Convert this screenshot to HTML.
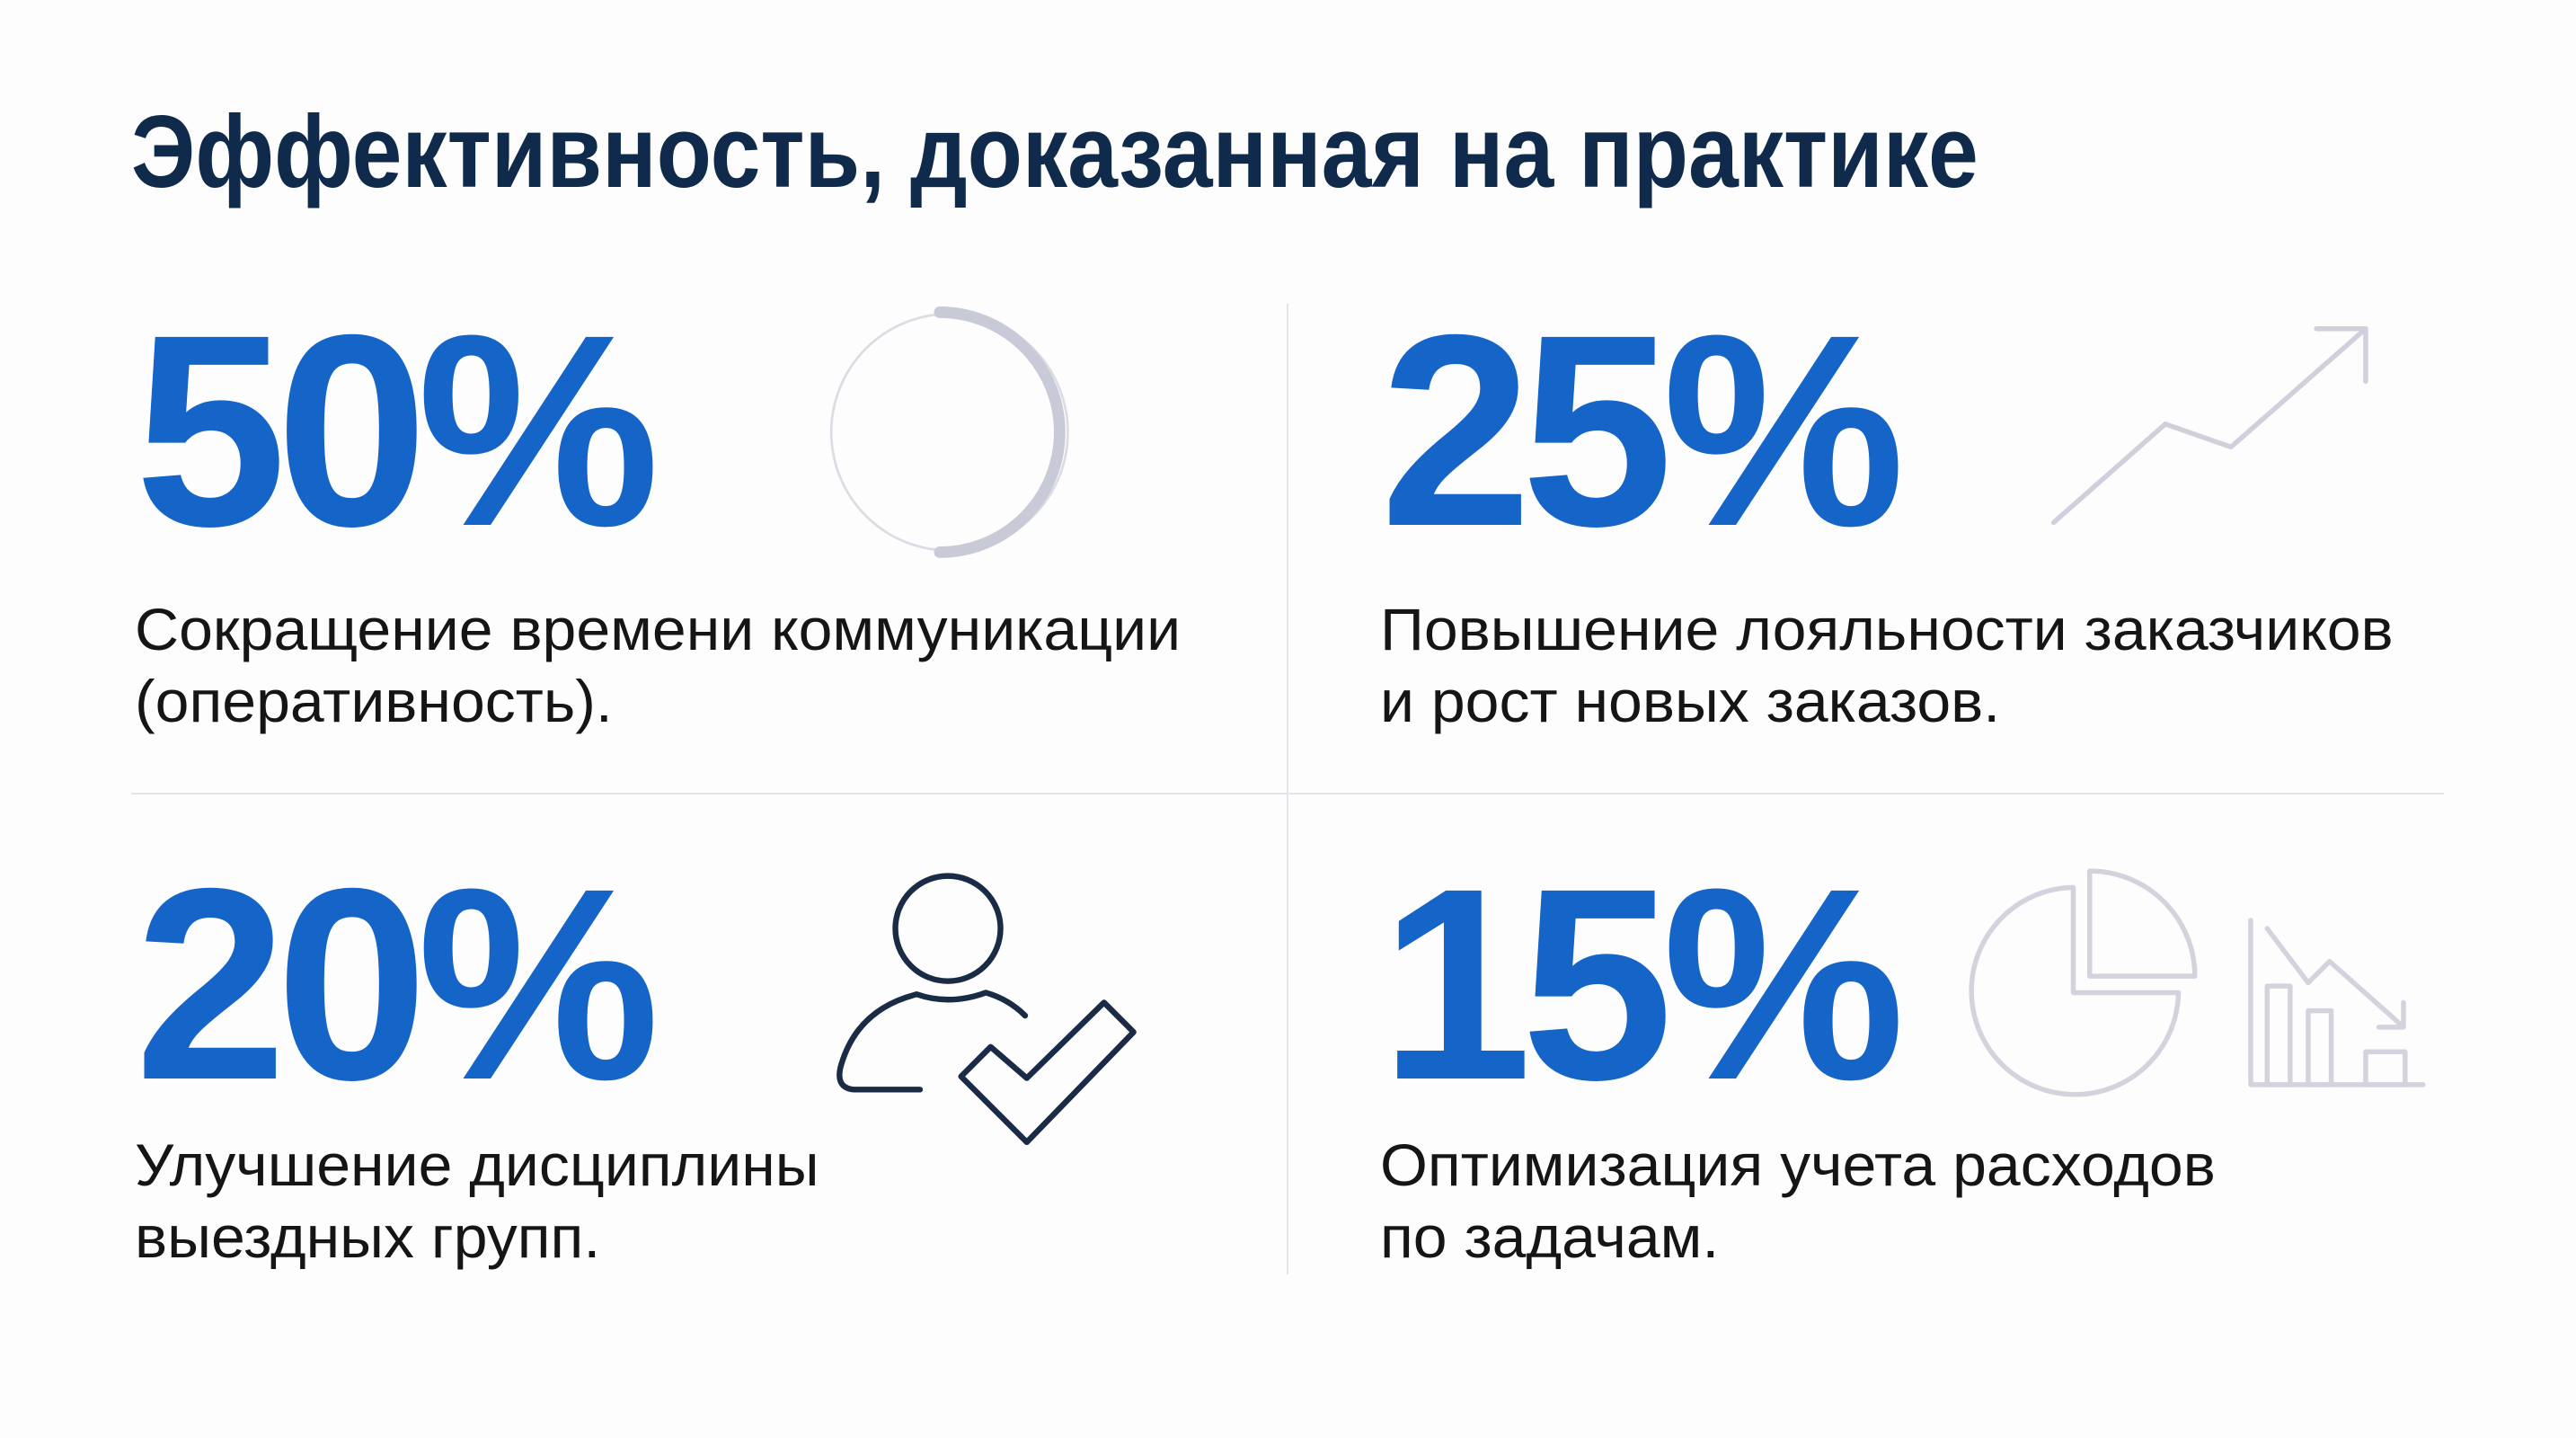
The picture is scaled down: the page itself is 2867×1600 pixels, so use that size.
<!DOCTYPE html>
<html><head><meta charset="utf-8"><style>
html,body{margin:0;padding:0}
body{width:2867px;height:1600px;position:relative;background:#fdfdfe;overflow:hidden;font-family:"Liberation Sans","DejaVu Sans",sans-serif}
.t{position:absolute;white-space:nowrap;transform-origin:left top}
.title{left:146px;top:113px;font-size:114px;line-height:114px;font-weight:bold;color:#0f2a4a;transform:scaleX(0.88)}
.num{font-size:304px;line-height:304px;font-weight:bold;color:#1565c8;letter-spacing:-12px}
.d{font-size:66px;line-height:80px;color:#151515;transform:scaleX(1.03)}
.line{position:absolute;background:#e4e4ea}
</style></head><body>
<div class="line" style="left:1432px;top:338px;width:2px;height:1080px"></div>
<div class="line" style="left:146px;top:882px;width:2574px;height:2px"></div>
<div class="t title">Эффективность, доказанная на практике</div>
<div class="t num" style="left:150px;top:328px">50%</div>
<div class="t num" style="left:1536px;top:328px">25%</div>
<div class="t num" style="left:150px;top:944px">20%</div>
<div class="t num" style="left:1536px;top:944px">15%</div>
<div class="t d" style="left:150px;top:660px">Сокращение времени коммуникации<br>(оперативность).</div>
<div class="t d" style="left:1536px;top:660px">Повышение лояльности заказчиков<br>и рост новых заказов.</div>
<div class="t d" style="left:150px;top:1256px">Улучшение дисциплины<br>выездных групп.</div>
<div class="t d" style="left:1536px;top:1256px">Оптимизация учета расходов<br>по задачам.</div>
<svg style="position:absolute;left:0;top:0" width="2867" height="1600" viewBox="0 0 1568 875" preserveAspectRatio="none">
<g fill="none" stroke-linecap="round" stroke-linejoin="round">
<circle cx="578" cy="263" r="72" stroke="#dcdce4" stroke-width="1.5"/>
<path d="M572 190 A73 73 0 0 1 572 336" stroke="#c9cad8" stroke-width="7"/>
<polyline points="1250,318 1318,258 1358,272 1440,200" stroke="#d0d0dc" stroke-width="3"/>
<polyline points="1410,200 1440,200 1440,232" stroke="#d0d0dc" stroke-width="3"/>
<circle cx="577" cy="565" r="32" stroke="#1a2b45" stroke-width="3.5"/>
<path d="M560 663 L520 663 Q508 662 512 648 Q522 614 558 605 Q578 612 600 604 Q614 608 624 618" stroke="#1a2b45" stroke-width="3.5"/>
<polygon points="585,655 625,695 690,628 672,610 625,656 603,637" stroke="#1a2b45" stroke-width="3.5" fill="#fdfdfe"/>
<path d="M1262 604 V540 A63 63 0 1 0 1326 604 Z" stroke="#d3d3de" stroke-width="3"/>
<path d="M1272 594 V530 A64 64 0 0 1 1336 594 Z" stroke="#d3d3de" stroke-width="3"/>
<path d="M1370 560 V660 H1475" stroke="#d3d3de" stroke-width="3"/>
<rect x="1380" y="600" width="14" height="60" stroke="#d3d3de" stroke-width="3"/>
<rect x="1405" y="615" width="14" height="45" stroke="#d3d3de" stroke-width="3"/>
<rect x="1440" y="640" width="24" height="20" stroke="#d3d3de" stroke-width="3"/>
<polyline points="1380,565 1405,598 1418,585 1462,624" stroke="#d3d3de" stroke-width="3"/>
<polyline points="1448,625 1463,625 1463,610" stroke="#d3d3de" stroke-width="3"/>
</g></svg>
</body></html>
